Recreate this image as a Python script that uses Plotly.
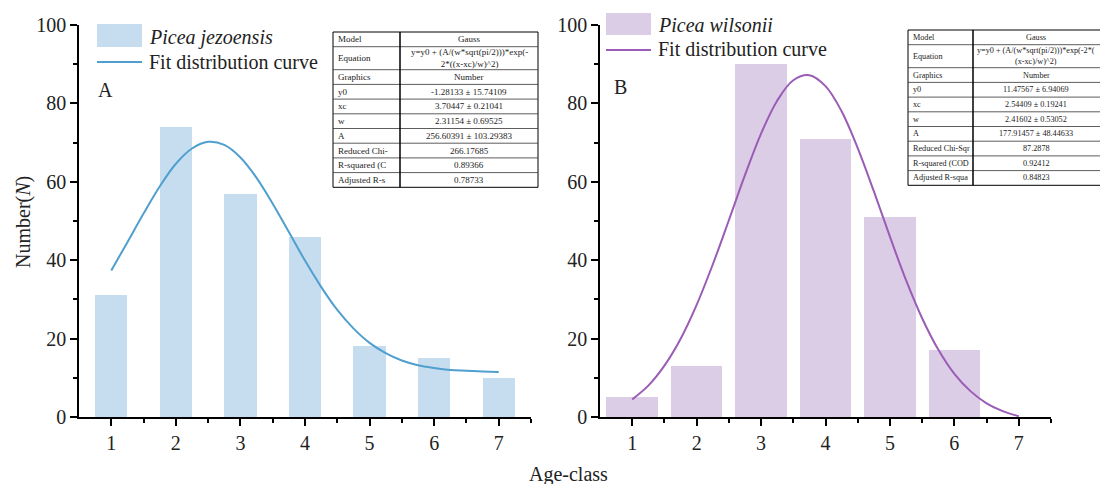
import plotly.graph_objects as go

# ---------------- data ----------------
age_classes = [1, 2, 3, 4, 5, 6, 7]
jezoensis_counts = [31, 74, 57, 46, 18, 15, 10]
wilsonii_classes = [1, 2, 3, 4, 5, 6]
wilsonii_counts = [5, 13, 90, 71, 51, 17]

fit_x = [1, 1.25, 1.5, 1.75, 2, 2.25, 2.5, 2.75, 3, 3.25, 3.5, 3.75, 4,
         4.25, 4.5, 4.75, 5, 5.25, 5.5, 5.75, 6, 6.25, 6.5, 6.75, 7]
fit_jezoensis = [37.4, 44.6, 51.9, 58.8, 64.6, 68.5, 70.2, 69.4, 66.2, 61.0,
                 54.4, 47.2, 39.9, 33.2, 27.3, 22.6, 18.9, 16.3, 14.4, 13.2,
                 12.5, 12.0, 11.8, 11.6, 11.5]
fit_wilsonii = [4.5, 8.0, 13.1, 19.9, 28.6, 38.9, 50.2, 61.7, 72.3, 80.7,
                85.9, 87.2, 84.4, 78.0, 68.6, 57.6, 46.0, 34.9, 25.2, 17.2,
                11.0, 6.6, 3.5, 1.5, 0.2]

y_ticks = [0, 20, 40, 60, 80, 100]
y_minor = [10, 30, 50, 70, 90]
x_minor = [1.5, 2.5, 3.5, 4.5, 5.5, 6.5, 7.5]

name_a = "Picea jezoensis"
name_b = "Picea wilsonii"
curve_label = "Fit distribution curve"
y_title = "Number(<i>N</i>)"
x_title = "Age-class"

table_keys_a = ["Model", "Equation", "Graphics", "y0", "xc", "w", "A",
                "Reduced Chi-", "R-squared (C", "Adjusted R-s"]
table_vals_a = ["Gauss", "y=y0 + (A/(w*sqrt(pi/2)))*exp(-<br>2*((x-xc)/w)^2)",
                "Number", "-1.28133 ± 15.74109", "3.70447 ± 0.21041",
                "2.31154 ± 0.69525", "256.60391 ± 103.29383", "266.17685",
                "0.89366", "0.78733"]
table_keys_b = ["Model", "Equation", "Graphics", "y0", "xc", "w", "A",
                "Reduced Chi-Sqr", "R-squared (COD", "Adjusted R-squa"]
table_vals_b = ["Gauss", "y=y0 + (A/(w*sqrt(pi/2)))*exp(-2*(<br>(x-xc)/w)^2)",
                "Number", "11.47567 ± 6.94069", "2.54409 ± 0.19241",
                "2.41602 ± 0.53052", "177.91457 ± 48.44633", "87.2878",
                "0.92412", "0.84823"]

# ---------------- styling ----------------
W, H = 1100, 484
FONT = "Liberation Serif"
bar_a_col = "#c6ddf0"
line_a_col = "#4f9fcf"
bar_b_col = "#dccde7"
line_b_col = "#9a5cb5"


def px(x):
    return x / W


def py(y):
    return 1 - y / H


fig = go.Figure()

fig.add_trace(go.Bar(x=age_classes, y=jezoensis_counts, width=0.5,
                     marker=dict(color=bar_a_col, line=dict(width=0)),
                     xaxis="x", yaxis="y", showlegend=False))
fig.add_trace(go.Scatter(x=fit_x, y=fit_jezoensis, mode="lines",
                         line=dict(color=line_a_col, width=2, shape="spline"),
                         xaxis="x", yaxis="y", showlegend=False))
fig.add_trace(go.Bar(x=wilsonii_classes, y=wilsonii_counts, width=0.8,
                     marker=dict(color=bar_b_col, line=dict(width=0)),
                     xaxis="x2", yaxis="y2", showlegend=False))
fig.add_trace(go.Scatter(x=fit_x, y=fit_wilsonii, mode="lines",
                         line=dict(color=line_b_col, width=2, shape="spline"),
                         xaxis="x2", yaxis="y2", showlegend=False))

ydom = [py(417), py(25)]
axis_common = dict(showgrid=False, zeroline=False, showline=True,
                   linecolor="black", linewidth=1.6, ticks="outside",
                   tickcolor="black", tickwidth=1.6, ticklen=7,
                   automargin=False,
                   tickfont=dict(family=FONT, size=20, color="#222"))
xaxis_common = dict(axis_common, range=[0.5, 7.5], tickvals=age_classes,
                    minor=dict(tickvals=x_minor, ticks="outside", ticklen=4,
                               tickcolor="black", tickwidth=1.6))
yaxis_common = dict(axis_common, range=[0, 100], tickvals=y_ticks,
                    minor=dict(tickvals=y_minor, ticks="outside", ticklen=4,
                               tickcolor="black", tickwidth=1.6))

fig.update_layout(
    width=W, height=H,
    margin=dict(l=0, r=0, t=0, b=0, pad=0, autoexpand=False),
    paper_bgcolor="white", plot_bgcolor="white",
    font=dict(family=FONT, color="#222"),
    showlegend=False,
    bargap=0,
    xaxis=dict(xaxis_common, domain=[px(79), px(531)], anchor="y"),
    yaxis=dict(yaxis_common, domain=ydom, anchor="x"),
    xaxis2=dict(xaxis_common, domain=[px(600), px(1051)], anchor="y2"),
    yaxis2=dict(yaxis_common, domain=ydom, anchor="x2"),
)

shapes = []
annotations = []


def text(x, y, s, size=20, xanchor="left", angle=0, color="#222"):
    annotations.append(dict(x=px(x), y=py(y), xref="paper", yref="paper",
                            text=s, showarrow=False, xanchor=xanchor,
                            yanchor="middle", textangle=angle,
                            font=dict(family=FONT, size=size, color=color)))


# legends
def legend(x0, y_sw0, y_sw1, y_line, y_t1, y_t2, bar_col, line_col, name):
    shapes.append(dict(type="rect", xref="paper", yref="paper",
                       x0=px(x0), x1=px(x0 + 45), y0=py(y_sw1), y1=py(y_sw0),
                       fillcolor=bar_col, line=dict(width=0)))
    shapes.append(dict(type="line", xref="paper", yref="paper",
                       x0=px(x0), x1=px(x0 + 45), y0=py(y_line), y1=py(y_line),
                       line=dict(color=line_col, width=2)))
    text(x0 + 50, y_t1, "<i>" + name + "</i>")
    text(x0 + 50, y_t2, curve_label)


legend(97, 24, 47, 62, 37, 62, bar_a_col, line_a_col, name_a)
legend(606, 13, 35, 50, 25, 49, bar_b_col, line_b_col, name_b)

# panel labels
text(105, 90, "A", xanchor="center")
text(620, 87, "B", xanchor="center")

# axis titles
text(23, 222, y_title, xanchor="center", angle=-90)
text(568, 474, x_title, xanchor="center")


# tables
def table(x0, xdiv, x1, top, keys, vals, fsize, vcenter):
    heights = [14.7 if k != "Equation" else 23 for k in keys]
    y = top
    bounds = [top]
    for h in heights:
        y += h
        bounds.append(y)
    bottom = bounds[-1]
    shapes.append(dict(type="rect", xref="paper", yref="paper",
                       x0=px(x0), x1=px(x1), y0=py(bottom), y1=py(top),
                       fillcolor="white", line=dict(color="black", width=1)))
    for b in bounds[1:-1]:
        shapes.append(dict(type="line", xref="paper", yref="paper",
                           x0=px(x0), x1=px(x1), y0=py(b), y1=py(b),
                           line=dict(color="#333", width=0.8)))
    shapes.append(dict(type="line", xref="paper", yref="paper",
                       x0=px(xdiv), x1=px(xdiv), y0=py(bottom), y1=py(top),
                       line=dict(color="black", width=1.5)))
    for i, (k, v) in enumerate(zip(keys, vals)):
        yc = (bounds[i] + bounds[i + 1]) / 2
        text(x0 + 3, yc, k, size=fsize)
        text(vcenter, yc, v, size=fsize, xanchor="center")


table(333, 400, 538, 32, table_keys_a, table_vals_a, 9, 469)
table(908, 973, 1107, 30, table_keys_b, table_vals_b, 8.2, 1036)

fig.update_layout(shapes=shapes, annotations=annotations)
fig.write_html("out.html")
